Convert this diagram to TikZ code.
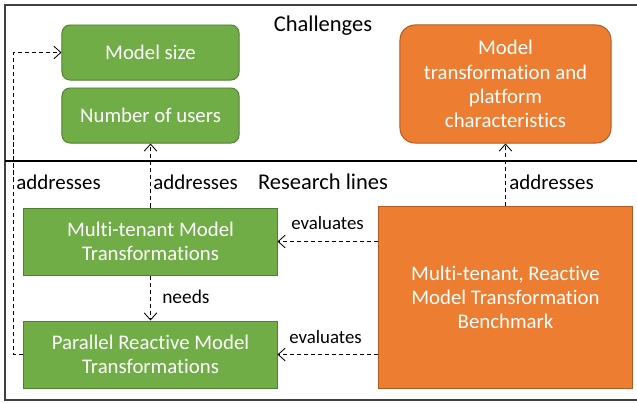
\documentclass[tikz,border=0pt]{standalone}
\usepackage{fontspec}
\setmainfont{Carlito}[Ligatures=NoCommon]
\usetikzlibrary{arrows.meta}
\definecolor{chgreen}{HTML}{70AD47}
\definecolor{chgreenline}{HTML}{507E32}
\definecolor{chorange}{HTML}{ED7D31}
\definecolor{chorangeline}{HTML}{AE5A21}
\definecolor{framegray}{HTML}{404040}
\tikzset{
    boxtext/.style={text=white, align=center, inner sep=0pt, font=\fontsize{14.8}{17.2}\selectfont},
    greenbox/.style={boxtext, draw=chgreenline, fill=chgreen, line width=0.7pt},
    orangebox/.style={boxtext, draw=chorangeline, fill=chorange, line width=0.7pt},
    relation/.style={dashed, dash pattern=on 3pt off 2pt, line width=0.6pt, -{Straight Barb[length=5pt,width=9pt]}},
    rellabel/.style={font=\fontsize{14.9}{17}\selectfont, inner sep=0pt, anchor=west},
    heading/.style={font=\fontsize{16}{19}\selectfont, inner sep=0pt},
}

\begin{document}
\begin{tikzpicture}[x=0.025cm, y=-0.025cm]
    \useasboundingbox (0,0) rectangle (637,402);
    % frame and divider
    \draw[framegray, line width=1pt] (637,5) -- (5,5) -- (5,400) -- (637,400);
    \draw[line width=1pt] (5,161) -- (637,161);
    \node[heading] (challenges) at (323,26) {Challenges};
    \node[heading] (research) at (323,182) {Research lines};

    % challenges
    \node[greenbox, rounded corners=0.2cm, minimum width=4.425cm, minimum height=1.375cm] (size) at (150.5,52.5) {Model size};
    \node[greenbox, rounded corners=0.2cm, minimum width=4.425cm, minimum height=1.375cm] (users) at (150.5,115.5) {Number of users};
    \node[orangebox, rounded corners=0.375cm, minimum width=5.275cm, minimum height=2.95cm] (platform) at (505.5,84) {Model\\transformation and\\platform\\characteristics};

    % research lines
    \node[greenbox, minimum width=6.325cm, minimum height=1.675cm] (multi) at (150.5,241.5) {Multi-tenant Model\\Transformations};
    \node[greenbox, minimum width=6.325cm, minimum height=1.675cm] (parallel) at (150.5,354.5) {Parallel Reactive Model\\Transformations};
    \node[orangebox, minimum width=6.325cm, minimum height=4.525cm] (bench) at (505.5,297.5) {Multi-tenant, Reactive\\Model Transformation\\Benchmark};

    % relations
    \draw[relation] (parallel.west) -- ++(-10,0) |- (size.west);
    \draw[relation] (multi.north) -- (users.south);
    \draw[relation] (bench.north) -- (platform.south);
    \draw[relation] (multi.south) -- (parallel.north);
    \draw[relation] (multi.east -| bench.west) -- (multi.east);
    \draw[relation] (parallel.east -| bench.west) -- (parallel.east);
    \node[rellabel] (addr1) at (16,182) {addresses};
    \node[rellabel] (addr2) at (153,182) {addresses};
    \node[rellabel] (addr3) at (509,182) {addresses};
    \node[rellabel, font=\fontsize{13.4}{16}\selectfont] (eval1) at (291,223) {evaluates};
    \node[rellabel, font=\fontsize{13.4}{16}\selectfont] (eval2) at (289,337) {evaluates};
    \node[rellabel, font=\fontsize{13.8}{16}\selectfont] (needs) at (162,297) {needs};
\end{tikzpicture}
\end{document}
